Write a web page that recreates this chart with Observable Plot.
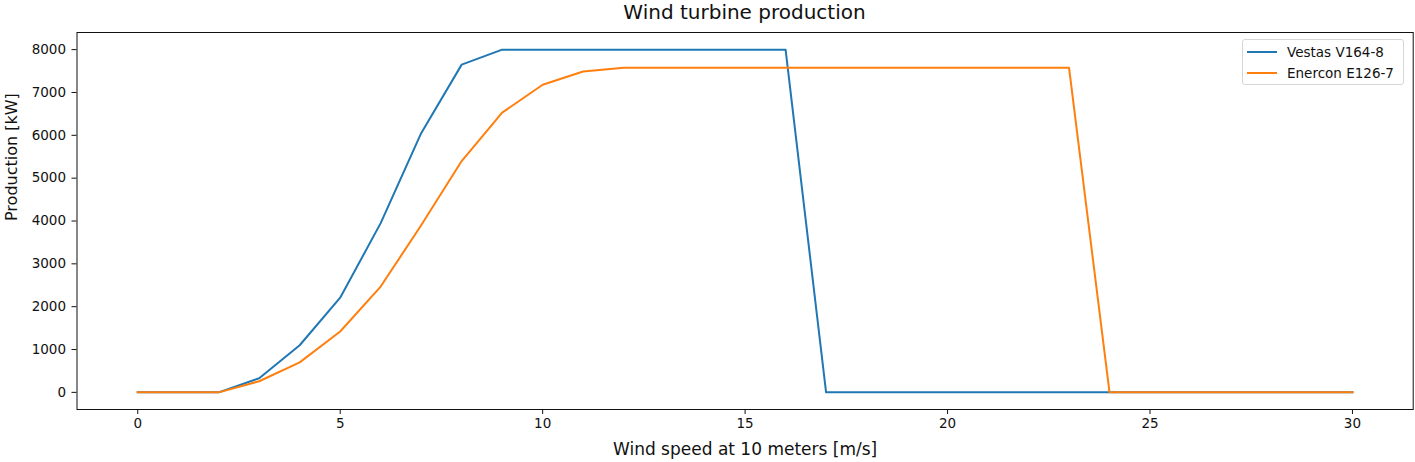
<!DOCTYPE html>
<html>
<head>
<meta charset="utf-8">
<script src="https://cdn.jsdelivr.net/npm/d3@7"></script>
<script src="https://cdn.jsdelivr.net/npm/@observablehq/plot@0.6"></script>
<style>
  html, body { margin: 0; padding: 0; background: #fff; }
  body { width: 1415px; height: 462px; position: relative; overflow: hidden; font-family: "DejaVu Sans", sans-serif; }
  #title { height: 26px; line-height: 25px; text-align: center; font-size: 20px; color: #111; padding-left: 74px; box-sizing: border-box; }
  #legend { position: absolute; left: 1242px; top: 39px; width: 162px; height: 46px; box-sizing: border-box;
            border: 1px solid #d6d6d6; border-radius: 3px; background: rgba(255,255,255,0.8); font-size: 13.5px; color: #111; }
  .row { position: absolute; left: 4px; height: 18px; display: flex; align-items: center; }
  .row svg { margin-right: 10px; }
</style>
</head>
<body>
<div id="title">Wind turbine production</div>
<div id="chart"></div>
<div id="legend"></div>
<script>
const speeds  = [0,1,2,3,4,5,6,7,8,9,10,11,12,13,14,15,16,17,18,19,20,21,22,23,24,25,26,27,28,29,30];
const vestas  = [0,0,0,330,1100,2210,3950,6050,7650,8000,8000,8000,8000,8000,8000,8000,8000,0,0,0,0,0,0,0,0,0,0,0,0,0,0];
const enercon = [0,0,0,260,700,1420,2470,3900,5400,6530,7180,7490,7580,7580,7580,7580,7580,7580,7580,7580,7580,7580,7580,7580,0,0,0,0,0,0,0];
const seriesNames = ["Vestas V164-8", "Enercon E126-7"];
const seriesColors = ["#1f77b4", "#ff7f0e"];
const xTicks = [0,5,10,15,20,25,30];
const yTicks = [0,1000,2000,3000,4000,5000,6000,7000,8000];

const rows = [];
speeds.forEach((s, i) => {
  rows.push({speed: s, value: vestas[i], series: seriesNames[0]});
  rows.push({speed: s, value: enercon[i], series: seriesNames[1]});
});

const plot = Plot.plot({
  width: 1415,
  height: 436,
  marginTop: 6,
  marginBottom: 53,
  marginLeft: 76.5,
  marginRight: 2.3,
  style: {fontFamily: "DejaVu Sans, sans-serif", fontSize: "13.5px", color: "#111", background: "#fff"},
  x: {domain: [-1.5, 31.5]},
  y: {domain: [-400, 8400]},
  color: {domain: seriesNames, range: seriesColors},
  marks: [
    Plot.axisX({ticks: xTicks, tickSize: 5, tickPadding: 4, label: null, fontSize: 13.5}),
    Plot.axisY({ticks: yTicks, tickSize: 5, tickPadding: 6, label: null, tickFormat: d => String(d), fontSize: 13.5}),
    Plot.line(rows, {x: "speed", y: "value", z: "series", stroke: "series", strokeWidth: 2, strokeLinejoin: "round", strokeLinecap: "square"}),
    Plot.frame({stroke: "#111", strokeWidth: 1}),
    Plot.text(["Wind speed at 10 meters [m/s]"], {frameAnchor: "bottom", dy: 40, text: d => d, fontSize: 17, lineAnchor: "middle", fill: "#111"}),
    Plot.text(["Production [kW]"], {frameAnchor: "left", dx: -65, text: d => d, fontSize: 16, rotate: -90, lineAnchor: "middle", fill: "#111"})
  ]
});
document.getElementById("chart").appendChild(plot);

const legend = document.getElementById("legend");
seriesNames.forEach((name, i) => {
  const row = document.createElement("div");
  row.className = "row";
  row.style.top = (3 + i * 21) + "px";
  row.innerHTML = `<svg width="30" height="4"><line x1="0" y1="2" x2="30" y2="2" stroke="${seriesColors[i]}" stroke-width="2"/></svg><span>${name}</span>`;
  legend.appendChild(row);
});
</script>
</body>
</html>
